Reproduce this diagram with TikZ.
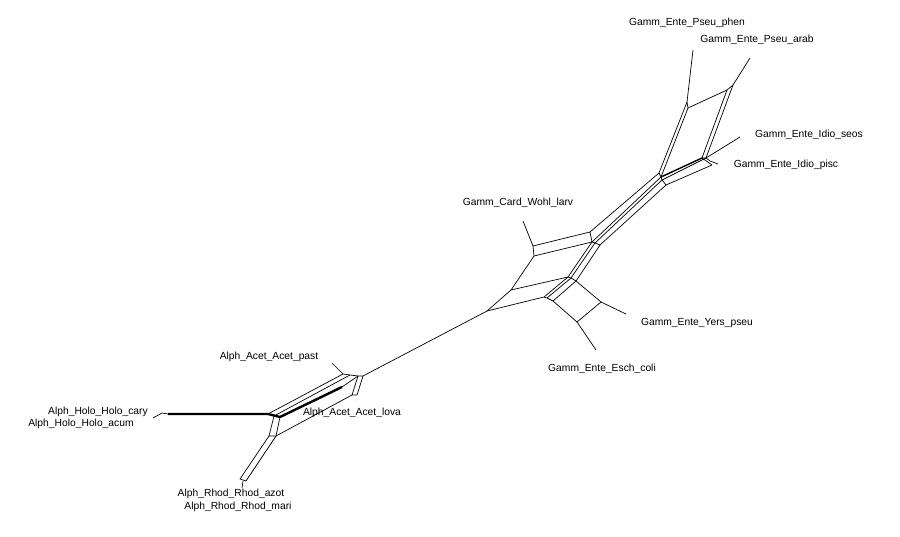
\documentclass[tikz,border=0pt]{standalone}
\usepackage{fontspec}
\setmainfont{Liberation Sans}
\begin{document}
\begin{tikzpicture}[x=1pt,y=-1pt,
  edge/.style={line width=0.7pt, line join=round},
  heavy/.style={line width=2.4pt, line join=round},
  mid/.style={line width=1.4pt, line join=round},
  lbl/.style={font=\fontsize{10.3}{12}\selectfont, inner sep=0pt}]
\useasboundingbox (0,0) rectangle (900,537);
% ---------- lower-left cluster ----------
\coordinate (a1) at (343,374);
\coordinate (a2) at (350,375);
\coordinate (a3) at (358,376);
\coordinate (a4) at (363,376);
\coordinate (a5) at (342,387);
\coordinate (b1) at (352,395);
\coordinate (b2) at (357,395);
\coordinate (c0) at (168,414);
\coordinate (c1) at (268,414);
\coordinate (c2) at (274,416);
\coordinate (c3) at (280,417);
\coordinate (d1) at (269,436);
\coordinate (d2) at (276,436);
\coordinate (r1) at (240,479);
\coordinate (r2) at (246,481);
\coordinate (r3) at (243,481);
\coordinate (lrm) at (242,488);
\coordinate (lpast) at (332,363);
\coordinate (hc) at (162,413);
\coordinate (ha) at (153,418);
% ---------- central cluster ----------
\coordinate (e) at (487,311);
\coordinate (f) at (511,290);
\coordinate (w1) at (533,246);
\coordinate (w2) at (534,256);
\coordinate (w3) at (590,232);
\coordinate (w4) at (592,242);
\coordinate (w4b) at (595,243);
\coordinate (w5) at (600,245);
\coordinate (lwohl) at (523,221);
\coordinate (h1) at (568,277);
\coordinate (h2) at (571,278);
\coordinate (h3) at (576,281);
\coordinate (g1) at (544,297);
\coordinate (g2) at (547,298);
\coordinate (s1) at (553,301);
\coordinate (s2) at (601,302);
\coordinate (s3) at (577,322);
\coordinate (lyers) at (626,314);
\coordinate (lesch) at (596,350);
% ---------- upper cluster ----------
\coordinate (u1) at (659,173);
\coordinate (u2) at (661,177);
\coordinate (u3) at (662,180);
\coordinate (u4) at (666,185);
\coordinate (p1) at (687,102);
\coordinate (p2) at (688,108);
\coordinate (p3) at (727,90);
\coordinate (p4) at (733,85);
\coordinate (lphen) at (693,50);
\coordinate (larab) at (750,58);
\coordinate (i1) at (702,158);
\coordinate (i2) at (706,158);
\coordinate (i3) at (710,161);
\coordinate (i4) at (712,165);
\coordinate (lseos) at (740,137);
\coordinate (lpisc) at (718,164);
% ---------- edges: lower-left ----------
\draw[edge] (lpast) -- (a1) -- (a2) -- (a3) -- (a4) -- (e);
\draw[edge] (a3) -- (b1) -- (b2) -- (a4);
\draw[edge] (a1) -- (c1);
\draw[edge] (a2) -- (c2);
\draw[edge] (a3) -- (a5);
\draw[heavy] (a5) -- (c3);
\draw[heavy] (c0) -- (c1) -- (c3);
\draw[edge] (c0) -- (hc) -- (ha);
\draw[edge] (c2) -- (d1) -- (d2) -- (c3);
\draw[edge] (b1) -- (d2);
\draw[edge] (d1) -- (r1) -- (r2) -- (d2);
\draw[edge] (r3) -- (lrm);
% ---------- edges: central ----------
\draw[edge] (e) -- (f) -- (h1) -- (h2) -- (h3);
\draw[edge] (e) -- (g1) -- (g2) -- (s1);
\draw[edge] (f) -- (w2) -- (w1) -- (lwohl);
\draw[edge] (w1) -- (w3) -- (w4) -- (w2);
\draw[edge] (w4) -- (w4b) -- (w5);
\draw[edge] (w4) -- (h1) -- (g1);
\draw[edge] (w4b) -- (h2) -- (g2);
\draw[edge] (w5) -- (h3) -- (s1);
\draw[edge] (h3) -- (s2) -- (s3) -- (s1);
\draw[edge] (s2) -- (lyers);
\draw[edge] (s3) -- (lesch);
% ---------- edges: upper ----------
\draw[edge] (w3) -- (u1);
\draw[edge] (w4) -- (u2);
\draw[edge] (w4b) -- (u3);
\draw[edge] (w5) -- (u4);
\draw[edge] (u1) -- (u2) -- (u3) -- (u4);
\draw[edge] (lphen) -- (p1) -- (p2) -- (p3) -- (p4) -- (larab);
\draw[edge] (p1) -- (u1);
\draw[edge] (p2) -- (u2);
\draw[edge] (p3) -- (i1);
\draw[edge] (p4) -- (i2);
\draw[mid] (u2) -- (i1);
\draw[edge] (u3) -- (i2);
\draw[edge] (i1) -- (i2) -- (lseos);
\draw[edge] (i1) -- (i4) -- (u4);
\draw[edge] (i2) -- (i3) -- (lpisc);
% ---------- labels ----------
\node[lbl] (tphen) at (687,23) {Gamm\_Ente\_Pseu\_phen};
\node[lbl] (tarab) at (757,40) {Gamm\_Ente\_Pseu\_arab};
\node[lbl] (tseos) at (809,135) {Gamm\_Ente\_Idio\_seos};
\node[lbl] (tpisc) at (786,165) {Gamm\_Ente\_Idio\_pisc};
\node[lbl] (twohl) at (518,203) {Gamm\_Card\_Wohl\_larv};
\node[lbl] (tyers) at (697,323) {Gamm\_Ente\_Yers\_pseu};
\node[lbl] (tesch) at (602,369) {Gamm\_Ente\_Esch\_coli};
\node[lbl] (tpast) at (269,357) {Alph\_Acet\_Acet\_past};
\node[lbl] (tlova) at (352,413) {Alph\_Acet\_Acet\_lova};
\node[lbl] (tcary) at (98,412) {Alph\_Holo\_Holo\_cary};
\node[lbl] (tacum) at (81,424) {Alph\_Holo\_Holo\_acum};
\node[lbl] (tazot) at (231,494) {Alph\_Rhod\_Rhod\_azot};
\node[lbl] (tmari) at (238,507) {Alph\_Rhod\_Rhod\_mari};
\end{tikzpicture}
\end{document}
